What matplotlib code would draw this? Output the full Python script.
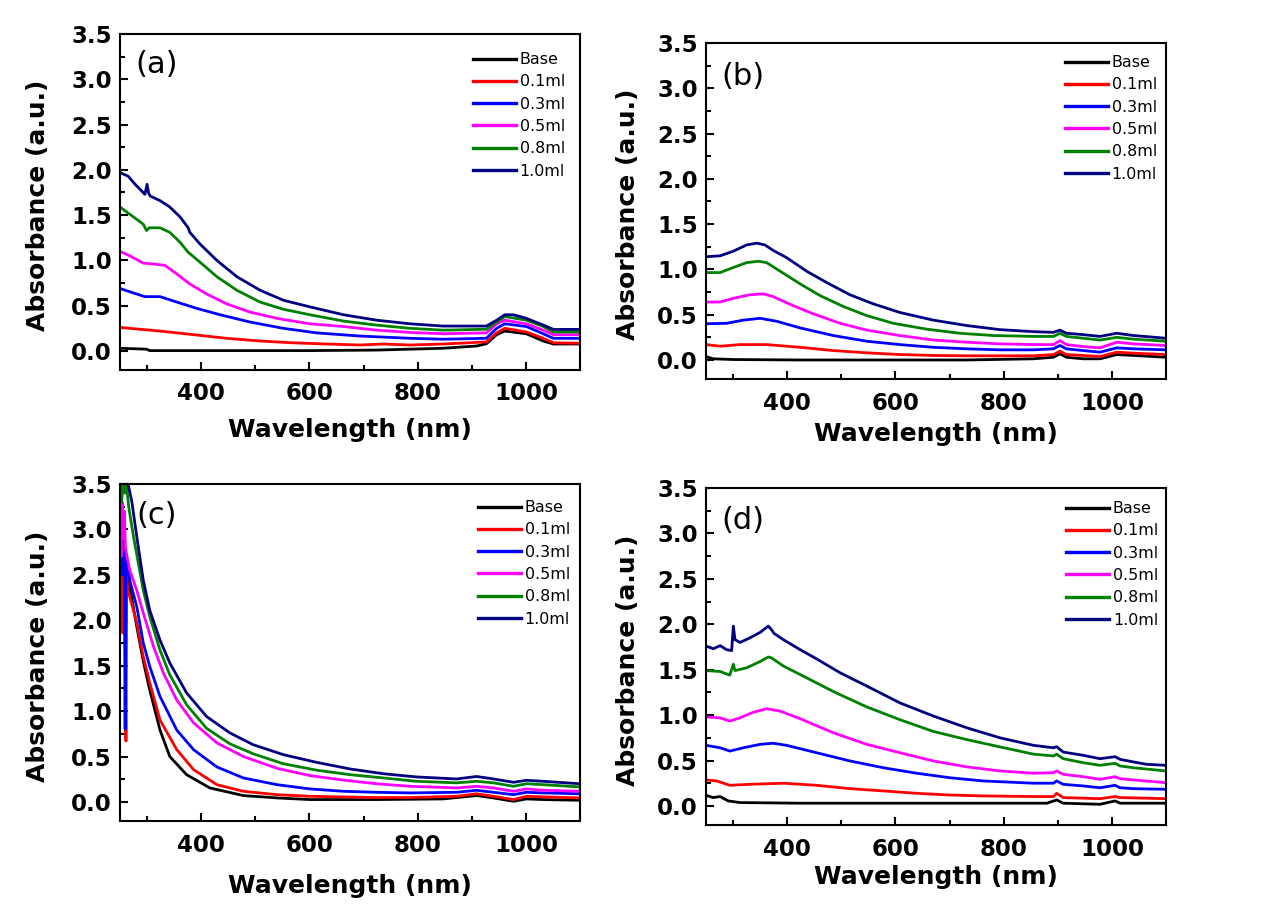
import matplotlib
matplotlib.use("Agg")
import matplotlib.pyplot as plt
from matplotlib.ticker import MultipleLocator, AutoMinorLocator, FormatStrFormatter

LABELS = ["Base", "0.1ml", "0.3ml", "0.5ml", "0.8ml", "1.0ml"]
COLORS = ["#000000", "#FF0000", "#0000FF", "#FF00FF", "#008000", "#000080"]
PANEL_TAGS = ["(a)", "(b)", "(c)", "(d)"]

# ---- panel (a) ----
a_base_x = [250, 299, 305, 400, 600, 724, 847, 909, 927, 946, 961, 1001, 1032, 1051, 1100]
a_base_y = [0.03, 0.02, 0.004, 0.004, 0.004, 0.01, 0.03, 0.055, 0.08, 0.18, 0.22, 0.19, 0.11, 0.077, 0.077]
a_01_x = [250, 268, 324, 386, 447, 509, 570, 632, 693, 737, 786, 847, 927, 946, 961, 1001, 1032, 1051, 1100]
a_01_y = [0.26, 0.25, 0.22, 0.18, 0.14, 0.11, 0.09, 0.077, 0.066, 0.077, 0.066, 0.077, 0.10, 0.20, 0.25, 0.21, 0.14, 0.09, 0.085]
a_03_x = [250, 275, 296, 324, 355, 392, 435, 490, 552, 613, 693, 786, 847, 927, 946, 961, 1001, 1032, 1051, 1100]
a_03_y = [0.69, 0.64, 0.60, 0.60, 0.54, 0.47, 0.40, 0.32, 0.25, 0.20, 0.165, 0.14, 0.13, 0.14, 0.25, 0.30, 0.27, 0.19, 0.14, 0.14]
a_05_x = [250, 268, 293, 312, 333, 355, 379, 410, 447, 490, 540, 601, 663, 724, 786, 847, 927, 946, 961, 1001, 1032, 1051, 1100]
a_05_y = [1.10, 1.05, 0.97, 0.96, 0.945, 0.85, 0.74, 0.63, 0.52, 0.43, 0.36, 0.30, 0.27, 0.23, 0.205, 0.19, 0.20, 0.30, 0.34, 0.30, 0.23, 0.18, 0.18]
a_08_x = [250, 268, 293, 299, 304, 324, 342, 361, 376, 398, 429, 466, 509, 552, 601, 663, 724, 786, 847, 927, 946, 961, 1001, 1032, 1051, 1100]
a_08_y = [1.59, 1.51, 1.40, 1.33, 1.36, 1.36, 1.31, 1.20, 1.09, 0.98, 0.82, 0.67, 0.54, 0.46, 0.40, 0.33, 0.286, 0.25, 0.23, 0.24, 0.32, 0.38, 0.34, 0.27, 0.21, 0.21]
a_10_x = [250, 265, 278, 296, 300, 303, 306, 324, 342, 361, 376, 379, 398, 429, 466, 509, 552, 601, 663, 724, 786, 847, 927, 946, 961, 977, 1001, 1032, 1051, 1100]
a_10_y = [1.97, 1.93, 1.84, 1.73, 1.84, 1.74, 1.71, 1.66, 1.59, 1.48, 1.36, 1.31, 1.18, 1.0, 0.82, 0.67, 0.56, 0.487, 0.40, 0.34, 0.30, 0.275, 0.275, 0.34, 0.40, 0.40, 0.36, 0.286, 0.238, 0.238]

# ---- panel (b) ----
b_base_x = [250, 263, 300, 424, 608, 732, 855, 892, 904, 916, 947, 978, 1009, 1040, 1100]
b_base_y = [0.038, 0.013, 0.005, 0.0, 0.0, 0.0, 0.013, 0.03, 0.068, 0.03, 0.013, 0.013, 0.06, 0.05, 0.03]
b_01_x = [250, 276, 313, 362, 424, 485, 547, 608, 670, 732, 855, 892, 904, 916, 947, 978, 1009, 1040, 1100]
b_01_y = [0.17, 0.152, 0.17, 0.17, 0.14, 0.104, 0.079, 0.06, 0.05, 0.046, 0.046, 0.06, 0.097, 0.06, 0.05, 0.038, 0.086, 0.075, 0.06]
b_03_x = [250, 288, 319, 350, 381, 424, 485, 547, 608, 670, 732, 793, 855, 892, 904, 916, 947, 978, 1009, 1040, 1100]
b_03_y = [0.40, 0.405, 0.44, 0.46, 0.427, 0.354, 0.27, 0.207, 0.17, 0.14, 0.123, 0.112, 0.112, 0.123, 0.16, 0.123, 0.104, 0.086, 0.134, 0.123, 0.112]
b_05_x = [250, 276, 300, 331, 356, 374, 411, 448, 498, 547, 608, 670, 732, 793, 855, 892, 904, 916, 947, 978, 1009, 1040, 1100]
b_05_y = [0.64, 0.64, 0.68, 0.72, 0.73, 0.70, 0.60, 0.51, 0.405, 0.33, 0.27, 0.22, 0.196, 0.178, 0.17, 0.17, 0.214, 0.17, 0.148, 0.134, 0.196, 0.178, 0.16]
b_08_x = [250, 276, 300, 325, 347, 362, 387, 424, 461, 504, 547, 596, 658, 719, 781, 855, 892, 904, 916, 947, 978, 1009, 1040, 1100]
b_08_y = [0.965, 0.965, 1.02, 1.075, 1.09, 1.075, 0.98, 0.84, 0.71, 0.59, 0.49, 0.405, 0.34, 0.295, 0.27, 0.26, 0.26, 0.295, 0.26, 0.24, 0.22, 0.25, 0.23, 0.207]
b_10_x = [250, 276, 300, 325, 344, 359, 374, 399, 436, 473, 516, 559, 608, 670, 732, 793, 855, 892, 904, 916, 947, 978, 1009, 1040, 1100]
b_10_y = [1.14, 1.15, 1.20, 1.27, 1.29, 1.27, 1.21, 1.13, 0.98, 0.855, 0.72, 0.62, 0.525, 0.44, 0.38, 0.335, 0.313, 0.305, 0.33, 0.295, 0.28, 0.26, 0.295, 0.27, 0.24]

# ---- panel (c) ----
c_base_x = [250, 254, 258, 262, 266, 270, 281, 293, 305, 324, 342, 373, 416, 478, 540, 601, 724, 847, 909, 940, 977, 1001, 1032, 1100]
c_base_y = [2.9, 2.4, 2.8, 2.3, 2.5, 2.3, 1.93, 1.55, 1.23, 0.79, 0.50, 0.30, 0.154, 0.07, 0.044, 0.026, 0.026, 0.033, 0.07, 0.044, 0.007, 0.033, 0.026, 0.018]
c_01_x = [250, 252, 254, 255, 257, 259, 261, 262.5, 264, 268, 281, 293, 305, 324, 355, 386, 429, 478, 540, 601, 663, 724, 786, 872, 909, 940, 977, 1001, 1032, 1100]
c_01_y = [2.9, 2.2, 3.0, 1.86, 2.8, 2.6, 0.67, 2.5, 2.35, 2.26, 1.97, 1.60, 1.31, 0.90, 0.575, 0.355, 0.19, 0.117, 0.08, 0.062, 0.055, 0.048, 0.048, 0.062, 0.09, 0.062, 0.026, 0.062, 0.055, 0.044]
c_03_x = [250, 252, 254, 256, 258, 259.5, 261, 264, 268, 281, 293, 305, 324, 355, 386, 429, 478, 540, 601, 663, 724, 786, 872, 909, 940, 977, 1001, 1032, 1100]
c_03_y = [2.8, 3.2, 2.5, 3.0, 2.6, 0.8, 2.7, 2.6, 2.44, 2.15, 1.75, 1.49, 1.16, 0.79, 0.575, 0.385, 0.264, 0.19, 0.143, 0.117, 0.106, 0.099, 0.106, 0.128, 0.106, 0.08, 0.106, 0.099, 0.09]
c_05_x = [250, 252, 254, 256, 258, 260, 263, 268, 281, 293, 312, 330, 355, 386, 429, 478, 540, 601, 663, 724, 786, 872, 909, 940, 977, 1001, 1032, 1100]
c_05_y = [3.1, 2.7, 3.3, 2.9, 3.2, 2.8, 2.7, 2.55, 2.33, 2.08, 1.71, 1.42, 1.12, 0.87, 0.65, 0.50, 0.37, 0.29, 0.24, 0.20, 0.172, 0.154, 0.172, 0.154, 0.117, 0.143, 0.128, 0.117]
c_08_x = [250, 253, 256, 259, 262, 266, 275, 293, 305, 324, 342, 373, 410, 453, 496, 552, 613, 675, 737, 798, 872, 909, 940, 977, 1001, 1032, 1100]
c_08_y = [3.5, 3.3, 3.55, 3.4, 3.5, 3.25, 2.92, 2.33, 2.04, 1.67, 1.40, 1.07, 0.81, 0.64, 0.53, 0.42, 0.35, 0.30, 0.264, 0.227, 0.21, 0.227, 0.21, 0.172, 0.20, 0.19, 0.165]
c_10_x = [250, 258, 265, 272, 281, 293, 305, 324, 342, 373, 410, 453, 496, 552, 613, 675, 737, 798, 872, 909, 940, 977, 1001, 1032, 1100]
c_10_y = [3.6, 3.55, 3.5, 3.3, 2.92, 2.44, 2.11, 1.78, 1.53, 1.20, 0.94, 0.76, 0.63, 0.52, 0.436, 0.363, 0.31, 0.275, 0.253, 0.28, 0.253, 0.216, 0.238, 0.227, 0.20]

# ---- panel (d) ----
d_base_x = [250, 263, 276, 291, 313, 424, 608, 793, 880, 898, 910, 978, 1006, 1015, 1100]
d_base_y = [0.117, 0.092, 0.103, 0.055, 0.037, 0.03, 0.03, 0.03, 0.03, 0.066, 0.03, 0.018, 0.055, 0.03, 0.03]
d_01_x = [250, 270, 294, 331, 393, 454, 516, 578, 639, 701, 762, 855, 892, 898, 910, 978, 1006, 1015, 1100]
d_01_y = [0.286, 0.275, 0.227, 0.238, 0.25, 0.227, 0.19, 0.165, 0.139, 0.12, 0.11, 0.103, 0.103, 0.139, 0.092, 0.08, 0.103, 0.092, 0.08]
d_03_x = [250, 276, 294, 319, 350, 374, 399, 454, 516, 578, 639, 701, 762, 855, 892, 898, 910, 947, 978, 1006, 1015, 1040, 1100]
d_03_y = [0.667, 0.64, 0.604, 0.64, 0.678, 0.69, 0.667, 0.586, 0.495, 0.42, 0.36, 0.31, 0.275, 0.25, 0.25, 0.275, 0.238, 0.22, 0.20, 0.227, 0.20, 0.19, 0.183]
d_05_x = [250, 276, 294, 313, 337, 362, 387, 424, 485, 547, 608, 670, 732, 793, 855, 892, 898, 910, 947, 978, 1006, 1015, 1040, 1100]
d_05_y = [0.98, 0.97, 0.934, 0.97, 1.03, 1.07, 1.044, 0.96, 0.806, 0.678, 0.586, 0.495, 0.43, 0.385, 0.36, 0.366, 0.385, 0.348, 0.322, 0.293, 0.322, 0.30, 0.286, 0.256]
d_08_x = [250, 276, 294, 300.5, 303.6, 325, 350, 365, 371, 393, 436, 485, 547, 608, 670, 732, 793, 855, 892, 898, 910, 947, 978, 1006, 1015, 1040, 1100]
d_08_y = [1.49, 1.48, 1.44, 1.56, 1.49, 1.52, 1.59, 1.64, 1.63, 1.54, 1.41, 1.26, 1.09, 0.95, 0.82, 0.73, 0.65, 0.57, 0.55, 0.57, 0.52, 0.476, 0.447, 0.469, 0.44, 0.42, 0.385]
d_10_x = [250, 263.5, 276, 288, 297.4, 300.5, 303.6, 313, 331, 350, 365, 371, 375.6, 393, 424, 454, 498, 547, 608, 670, 732, 793, 855, 892, 898, 910, 947, 978, 1006, 1015, 1040, 1064, 1100]
d_10_y = [1.76, 1.73, 1.765, 1.72, 1.71, 1.98, 1.83, 1.80, 1.85, 1.91, 1.98, 1.94, 1.90, 1.83, 1.72, 1.62, 1.465, 1.32, 1.135, 0.99, 0.86, 0.75, 0.667, 0.64, 0.652, 0.593, 0.557, 0.52, 0.542, 0.513, 0.484, 0.458, 0.447]

SERIES = [
    [(a_base_x, a_base_y), (a_01_x, a_01_y), (a_03_x, a_03_y), (a_05_x, a_05_y), (a_08_x, a_08_y), (a_10_x, a_10_y)],
    [(b_base_x, b_base_y), (b_01_x, b_01_y), (b_03_x, b_03_y), (b_05_x, b_05_y), (b_08_x, b_08_y), (b_10_x, b_10_y)],
    [(c_base_x, c_base_y), (c_01_x, c_01_y), (c_03_x, c_03_y), (c_05_x, c_05_y), (c_08_x, c_08_y), (c_10_x, c_10_y)],
    [(d_base_x, d_base_y), (d_01_x, d_01_y), (d_03_x, d_03_y), (d_05_x, d_05_y), (d_08_x, d_08_y), (d_10_x, d_10_y)],
]

# layout (pixels of a 1264x921 canvas): left, top, right, bottom
W, H = 1264, 921
BOXES = [(120, 34, 580, 370), (706, 43, 1166, 379), (120, 484, 580, 821), (706, 488, 1166, 825)]
TAG_POS = [(0.033, 0.908), (0.034, 0.90), (0.036, 0.908), (0.034, 0.905)]
LEG_POS = [(0.767, 0.946), (0.780, 0.964), (0.778, 0.952), (0.783, 0.961)]
XLAB_Y = [-0.18, -0.164, -0.193, -0.154]
YLAB_X = [-0.178, -0.17, -0.178, -0.17]

plt.rcParams["font.family"] = ["DejaVu Sans"]
fig = plt.figure(figsize=(W / 100, H / 100), dpi=100)

for i, (l, t, r, b) in enumerate(BOXES):
    ax = fig.add_axes([l / W, 1 - b / H, (r - l) / W, (b - t) / H])
    for (xs, ys), lab, col in zip(SERIES[i], LABELS, COLORS):
        ax.plot(xs, ys, color=col, lw=2.0, label=lab)
    ax.set_xlim(250, 1100)
    ax.set_ylim(-0.21, 3.5)
    ax.xaxis.set_major_locator(MultipleLocator(200))
    ax.xaxis.set_minor_locator(AutoMinorLocator(2))
    ax.yaxis.set_major_locator(MultipleLocator(0.5))
    ax.yaxis.set_minor_locator(AutoMinorLocator(2))
    ax.yaxis.set_major_formatter(FormatStrFormatter("%.1f"))
    ax.tick_params(which="both", direction="in", top=False, right=False, width=1.5)
    ax.tick_params(which="major", length=6)
    ax.tick_params(which="minor", length=3.5)
    ax.tick_params(axis="x", pad=9)
    ax.tick_params(axis="y", pad=6)
    for lbl in ax.get_xticklabels() + ax.get_yticklabels():
        lbl.set_fontsize(16.5)
        lbl.set_fontweight("bold")
    for sp in ax.spines.values():
        sp.set_linewidth(1.5)
    ax.set_xlabel("Wavelength (nm)", fontsize=18, fontweight="bold", va="center")
    ax.set_ylabel("Absorbance (a.u.)", fontsize=18, fontweight="bold", va="center")
    ax.xaxis.set_label_coords(0.5, XLAB_Y[i])
    ax.yaxis.set_label_coords(YLAB_X[i], 0.49)
    ax.text(TAG_POS[i][0], TAG_POS[i][1], PANEL_TAGS[i], transform=ax.transAxes,
            fontsize=22, ha="left", va="center")
    leg = ax.legend(loc="upper left", bbox_to_anchor=LEG_POS[i], frameon=False, fontsize=11.4,
                    borderpad=0, borderaxespad=0, handlelength=2.7, handletextpad=0.25,
                    labelspacing=0.46)
    for h in leg.get_lines():
        h.set_linewidth(2.4)

fig.savefig("out.png", dpi=100)
